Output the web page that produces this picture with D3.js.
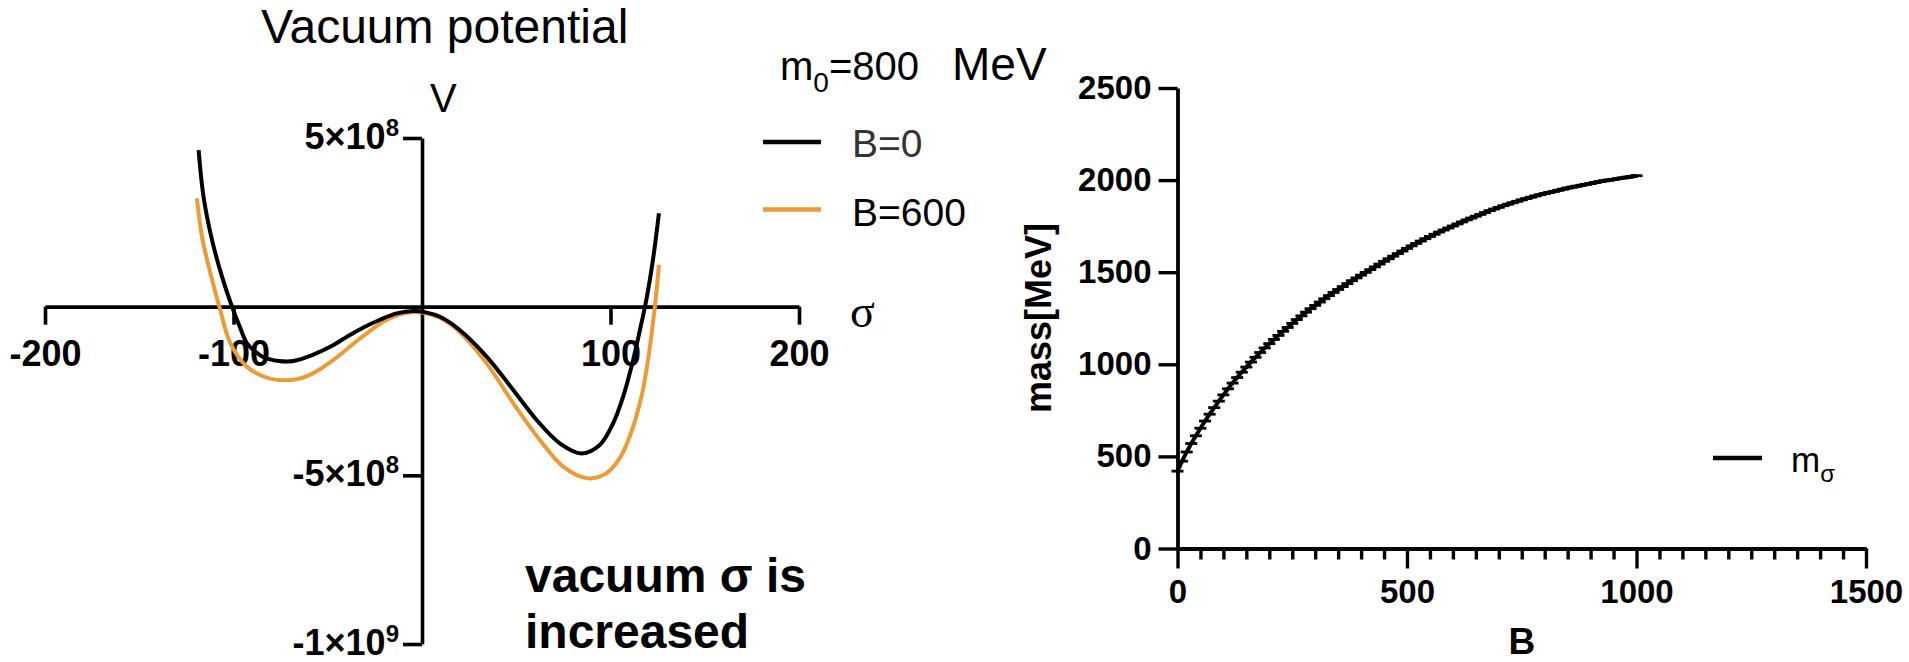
<!DOCTYPE html>
<html><head><meta charset="utf-8">
<script src="https://cdn.jsdelivr.net/npm/d3@7"></script>
<style>
html,body{margin:0;padding:0;background:#fff;}
svg{display:block;font-family:"Liberation Sans",Arial,Helvetica,sans-serif;}
</style></head><body>
<svg id="chart" width="1909" height="662"></svg>
<script>
// ---------- data: vacuum potential ----------
const sigmaB0 = [-118.5,-115.9,-111.4,-106.1,-100.8,-96.5,-92.9,-88,-84.1,-76,-68.2,-58,-48.7,-40,-31.1,-22,-13.4,-4.6,2,9.5,20,34.3,48.4,60.8,73.1,84.6,94.3,101.4,106.7,112.0,116.4,119.0,122.5,125.7];
const vB0 = [4.64e8,3.26e8,1.98e8,0.89e8,0,-0.62e8,-1.08e8,-1.35e8,-1.50e8,-1.61e8,-1.61e8,-1.43e8,-1.19e8,-0.90e8,-0.62e8,-0.38e8,-0.20e8,-0.13e8,-0.17e8,-0.30e8,-0.69e8,-1.48e8,-2.47e8,-3.36e8,-4.05e8,-4.35e8,-4.10e8,-3.46e8,-2.67e8,-1.58e8,-0.49e8,0.20e8,1.38e8,2.77e8];
const sigmaB600 = [-119.4,-116.7,-112.3,-107.5,-101.7,-92.9,-84.1,-77,-66.4,-57.6,-47,-32.8,-18.7,-8.1,0,9.5,20,34.3,48.4,62.5,74.9,88,97.8,104.9,110.2,116.4,119.9,122.5,124.3,125.7];
const vB600 = [3.21e8,2.07e8,1.0e8,0,-1.08e8,-1.78e8,-2.07e8,-2.17e8,-2.15e8,-1.97e8,-1.58e8,-0.94e8,-0.39e8,-0.18e8,-0.17e8,-0.33e8,-0.75e8,-1.68e8,-2.86e8,-3.95e8,-4.74e8,-5.09e8,-4.94e8,-4.49e8,-3.85e8,-2.67e8,-1.58e8,-0.49e8,0.40e8,1.24e8];
const potentialLabels = ["B=0","B=600"];
const potentialColors = ["#000000","#EB9B37"];
const sigmaTicks = [-200,-100,100,200];
const vTicks = [5e8,-5e8,-1e9];
const vTickMantissa = ["5×10","-5×10","-1×10"];
const vTickExponent = ["8","8","9"];

// ---------- data: sigma mass vs B ----------
const fieldB = [0,10,20,30,40,50,60,70,80,90,100,110,120,130,140,150,160,170,180,190,200,210,220,230,240,250,260,270,280,290,300,310,320,330,340,350,360,370,380,390,400,410,420,430,440,450,460,470,480,490,500,510,520,530,540,550,560,570,580,590,600,610,620,630,640,650,660,670,680,690,700,710,720,730,740,750,760,770,780,790,800,810,820,830,840,850,860,870,880,890,900,910,920,930,940,950,960,970,980,990,1000];
const massSigma = [420,474,524,570,612,653,692,729,765,800,834,867,898,928,957,985,1012,1038,1064,1089,1112,1135,1157,1179,1200,1222,1243,1263,1283,1302,1320,1338,1356,1373,1390,1406,1422,1438,1454,1469,1484,1499,1514,1529,1544,1559,1573,1587,1601,1615,1629,1643,1656,1669,1682,1694,1706,1718,1729,1740,1751,1762,1773,1784,1794,1804,1814,1824,1834,1843,1852,1861,1869,1877,1885,1893,1900,1907,1914,1921,1927,1933,1939,1945,1951,1957,1962,1967,1972,1977,1982,1987,1992,1996,2000,2004,2008,2012,2016,2020,2024];
const bTicks = [0,500,1000,1500];
const bMinorStep = 50;
const massTicks = [0,500,1000,1500,2000,2500];

const svg = d3.select("#chart");
const plainFmt = d => String(d);

// ================= LEFT CHART =================
const xL = d3.scaleLinear().domain([-200,200]).range([45,799]);
const yL = d3.scaleLinear().domain([-1e9,5e8]).range([644,138]);
const L = svg.append("g");

const gxL = L.append("g").attr("transform",`translate(0,${yL(0)})`)
  .call(d3.axisBottom(xL).tickValues(sigmaTicks).tickSize(18).tickSizeOuter(0).tickPadding(16).tickFormat(plainFmt));
const gyL = L.append("g").attr("transform",`translate(${xL(0)},0)`)
  .call(d3.axisLeft(yL).tickValues(vTicks).tickSize(19).tickSizeOuter(0).tickPadding(4).tickFormat(""));
gyL.selectAll(".tick text").each(function(d,i){
  const t = d3.select(this);
  t.text(null).attr("dy","0.28em");
  t.append("tspan").text(vTickMantissa[i]);
  t.append("tspan").attr("font-size",24).attr("dy",-13).text(vTickExponent[i]);
});
[gxL,gyL].forEach(g=>{
  g.selectAll("path.domain").attr("stroke","#000").attr("stroke-width",3.6);
  g.selectAll(".tick line").attr("stroke","#000").attr("stroke-width",3.6);
  g.selectAll(".tick text").attr("fill","#000").attr("font-size",36).attr("font-weight","bold")
    .attr("font-family","'Liberation Sans',Arial,sans-serif");
});

const lineL = d3.line().x(d=>xL(d[0])).y(d=>yL(d[1])).curve(d3.curveCatmullRom.alpha(0.5));
const seriesL = [d3.zip(sigmaB0,vB0), d3.zip(sigmaB600,vB600)];
[1,0].forEach(i=>{
  L.append("path").datum(seriesL[i]).attr("d",lineL)
   .attr("fill","none").attr("stroke",potentialColors[i]).attr("stroke-width",4);
});

L.append("text").attr("x",261).attr("y",43).attr("font-size",48).attr("fill","#000").text("Vacuum potential");
L.append("text").attr("x",430).attr("y",112).attr("font-size",40).attr("fill","#000").text("V");
L.append("text").attr("x",850).attr("y",327).attr("font-size",46)
  .attr("font-family","'Liberation Serif','Times New Roman',serif").attr("fill","#000").text("σ");

const lg = L.append("g");
const mt = lg.append("text").attr("x",780).attr("y",80).attr("font-size",40).attr("fill","#000");
mt.append("tspan").text("m");
mt.append("tspan").attr("font-size",28).attr("dy",12).text("0");
mt.append("tspan").attr("dy",-12).text("=800");
lg.append("text").attr("x",952).attr("y",80).attr("font-size",46).attr("fill","#000").text("MeV");
const legY = [142,209.5];
const legTextY = [157,226];
const legTextCol = ["#333333","#000000"];
potentialLabels.forEach((lab,i)=>{
  lg.append("line").attr("x1",763).attr("x2",821).attr("y1",legY[i]).attr("y2",legY[i])
    .attr("stroke",potentialColors[i]).attr("stroke-width",4.5);
  lg.append("text").attr("x",852).attr("y",legTextY[i]).attr("font-size",39).attr("fill",legTextCol[i]).text(lab);
});

L.append("text").attr("x",525).attr("y",592).attr("font-size",48).attr("font-weight","bold").attr("fill","#000").text("vacuum σ is");
L.append("text").attr("x",525).attr("y",648).attr("font-size",48).attr("font-weight","bold").attr("fill","#000").text("increased");

// ================= RIGHT CHART =================
const xR = d3.scaleLinear().domain([0,1500]).range([1177.5,1866]);
const yR = d3.scaleLinear().domain([0,2500]).range([548.5,88]);
const R = svg.append("g");

const minorVals = d3.range(0,1500+1,bMinorStep).filter(v=>!bTicks.includes(v));
const gxRm = R.append("g").attr("transform",`translate(0,${yR(0)})`)
  .call(d3.axisBottom(xR).tickValues(minorVals).tickSize(11).tickSizeOuter(0).tickFormat(""));
const gxR = R.append("g").attr("transform",`translate(0,${yR(0)})`)
  .call(d3.axisBottom(xR).tickValues(bTicks).tickSize(20).tickSizeOuter(0).tickPadding(11).tickFormat(plainFmt));
const gyR = R.append("g").attr("transform",`translate(${xR(0)},0)`)
  .call(d3.axisLeft(yR).tickValues(massTicks).tickSize(19).tickSizeOuter(0).tickPadding(7).tickFormat(plainFmt));
[gxRm,gxR,gyR].forEach(g=>{
  g.selectAll("path.domain").attr("stroke","#000").attr("stroke-width",3.8);
  g.selectAll(".tick line").attr("stroke","#000").attr("stroke-width",3.4);
  g.selectAll(".tick text").attr("fill","#000").attr("font-size",33).attr("font-weight","bold")
    .attr("font-family","'Liberation Sans',Arial,sans-serif");
});

const massData = d3.zip(fieldB,massSigma);
R.append("path").datum(massData)
  .attr("d",d3.line().x(d=>xR(d[0])).y(d=>yR(d[1])))
  .attr("fill","none").attr("stroke","#000").attr("stroke-width",4);
R.append("g").selectAll("path").data(massData).join("path")
  .attr("transform",d=>`translate(${xR(d[0])},${yR(d[1])})`)
  .attr("d","M-6,0H6").attr("stroke","#000").attr("stroke-width",2.8);

R.append("text").attr("x",(xR(0)+xR(1500))/2).attr("y",654).attr("text-anchor","middle")
  .attr("font-size",37).attr("font-weight","bold").attr("fill","#000").text("B");
R.append("text").attr("transform","translate(1051,318) rotate(-90)").attr("text-anchor","middle")
  .attr("font-size",36).attr("font-weight","bold").attr("fill","#000").text("mass[MeV]");

R.append("line").attr("x1",1713).attr("x2",1762).attr("y1",458).attr("y2",458)
  .attr("stroke","#000").attr("stroke-width",4.5);
const ms = R.append("text").attr("x",1791).attr("y",472).attr("font-size",35).attr("fill","#000");
ms.append("tspan").text("m");
ms.append("tspan").attr("font-size",24).attr("dy",10).text("σ");
</script>
</body></html>
